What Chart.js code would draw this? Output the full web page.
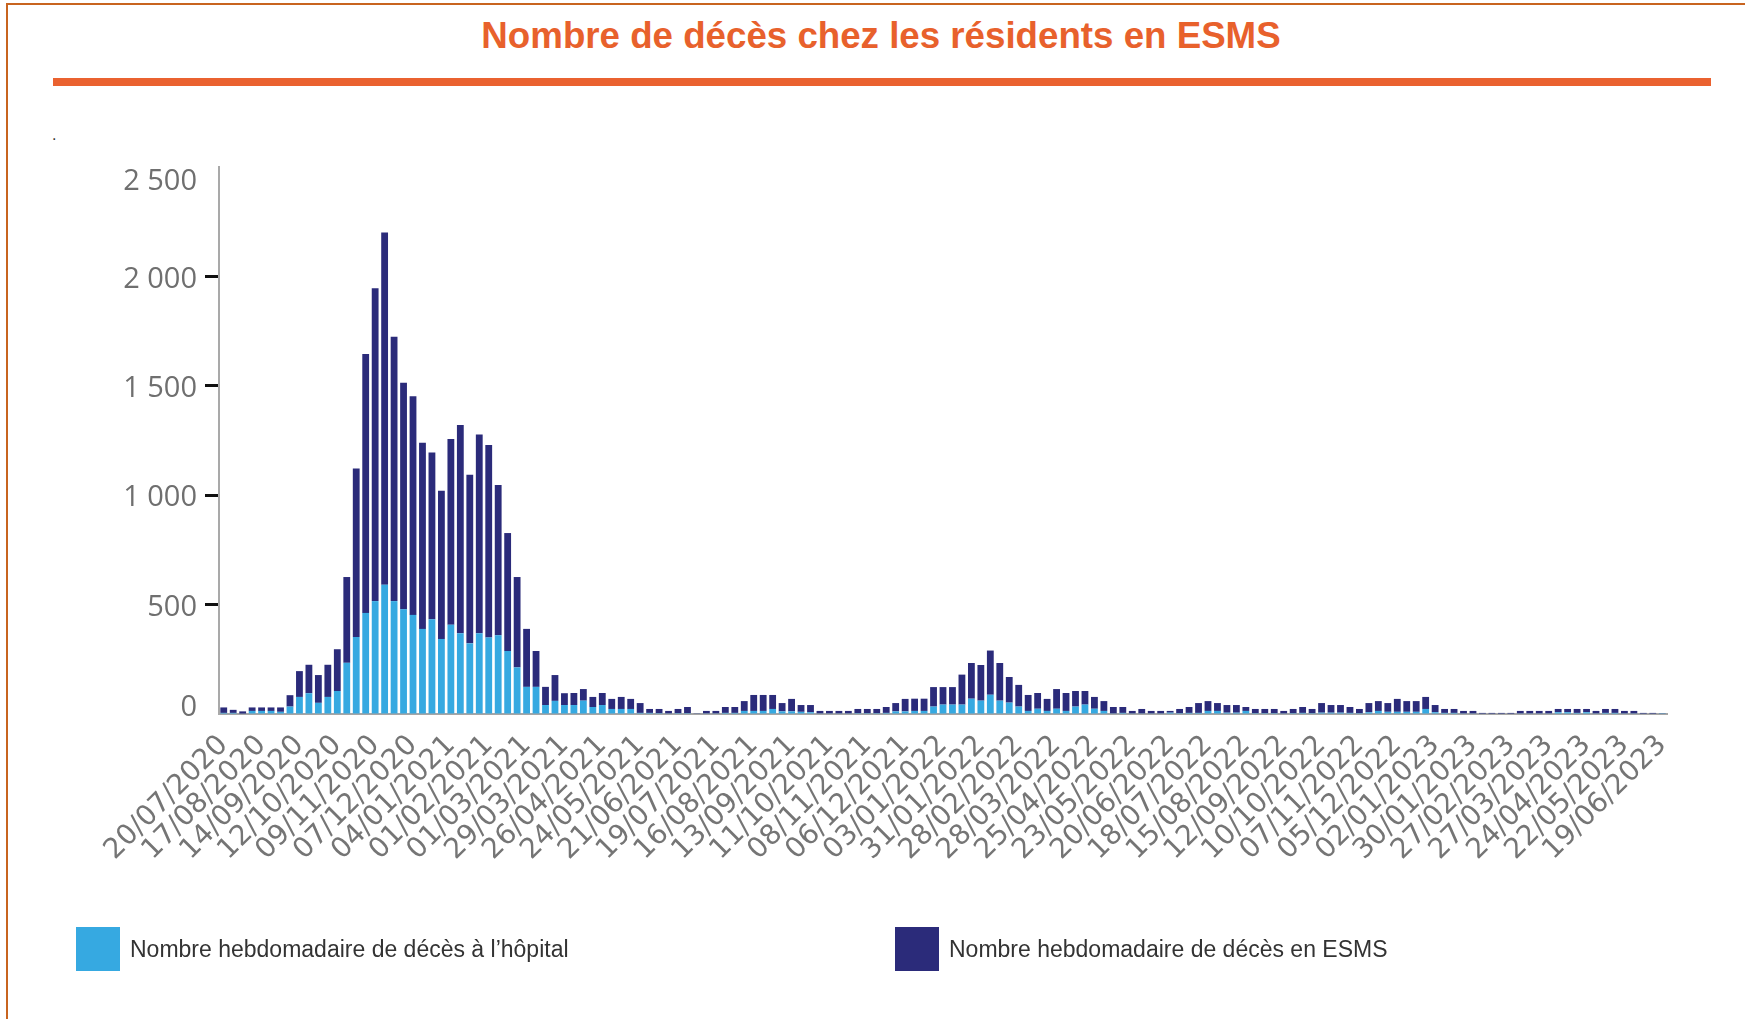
<!DOCTYPE html>
<html lang="fr">
<head>
<meta charset="utf-8">
<title>Nombre de décès chez les résidents en ESMS</title>
<script src="https://cdn.jsdelivr.net/npm/chart.js@4.4.1/dist/chart.umd.min.js"></script>
<style>
  body { margin: 0; background: #fff; }
  #page { position: relative; width: 1745px; height: 1019px; overflow: hidden; background: #fff; }
  #frame { position: absolute; left: 6px; top: 3px; right: 0; bottom: 0; border-left: 2px solid #c8641f; border-top: 2px solid #c8641f; }
  #title { position: absolute; left: 381px; width: 1000px; top: 15px; line-height: 42px; text-align: center;
           font: bold 36.7px "Liberation Sans", Arial, sans-serif; color: #e8612c; }
  #rule { position: absolute; left: 53px; top: 78px; width: 1658px; height: 8px; background: #ea6230; }
  #dot { position: absolute; left: 52px; top: 126px; font: 16px "Liberation Sans", Arial, sans-serif; color: #333; }
  #chart { position: absolute; left: 0; top: 0; }
  .leg { position: absolute; top: 927px; height: 44px; display: flex; align-items: center;
         font: 23px "Liberation Sans", Arial, sans-serif; color: #333; white-space: nowrap; }
  .leg span.box { display: inline-block; width: 44px; height: 44px; margin-right: 10px; }
</style>
</head>
<body>
<div id="page">
  <div id="frame"></div>
  <div id="title">Nombre de décès chez les résidents en ESMS</div>
  <div id="rule"></div>
  <div id="dot">.</div>
  <canvas id="chart" width="1745" height="1019"></canvas>
  <div class="leg" style="left:76px"><span class="box" style="background:#36a9e1"></span>Nombre hebdomadaire de décès à l’hôpital</div>
  <div class="leg" style="left:895px"><span class="box" style="background:#2b2b7a"></span>Nombre hebdomadaire de décès en ESMS</div>
</div>
<script>
// Semaines : du 20/07/2020, une barre par semaine (153 semaines)
const firstWeek = Date.UTC(2020, 6, 20);
const weekCount = 153;
const weeks = [];
for (let i = 0; i < weekCount; i++) {
    const d = new Date(firstWeek + i * 7 * 86400000);
    const dd = String(d.getUTCDate()).padStart(2, '0');
    const mm = String(d.getUTCMonth() + 1).padStart(2, '0');
    weeks.push(dd + '/' + mm + '/' + d.getUTCFullYear());
}

// Libellés affichés sous l'axe (une semaine sur quatre)
const tickLabels = [
    '20/07/2020', '17/08/2020', '14/09/2020', '12/10/2020', '09/11/2020', '07/12/2020',
    '04/01/2021', '01/02/2021', '01/03/2021', '29/03/2021', '26/04/2021', '24/05/2021',
    '21/06/2021', '19/07/2021', '16/08/2021', '13/09/2021', '11/10/2021', '08/11/2021',
    '06/12/2021', '03/01/2022', '31/01/2022', '28/02/2022', '28/03/2022', '25/04/2022',
    '23/05/2022', '20/06/2022', '18/07/2022', '15/08/2022', '12/09/2022', '10/10/2022',
    '07/11/2022', '05/12/2022', '02/01/2023', '30/01/2023', '27/02/2023', '27/03/2023',
    '24/04/2023', '22/05/2023', '19/06/2023'
];

const yTicks = [0, 500, 1000, 1500, 2000, 2500];

// Décès hebdomadaires à l'hôpital (bleu clair)
const hospital = [
    5, 5, 2, 14, 14, 14, 10, 34, 78, 95, 51, 78, 105, 234, 352, 462, 516, 591, 516, 479,
    453, 389, 433, 343, 408, 369, 323, 369, 350, 360, 288, 213, 124, 124, 41, 60, 41, 41, 61, 32,
    41, 23, 23, 23, 5, 5, 4, 3, 4, 4, 2, 3, 3, 5, 5, 14, 14, 14, 23, 12,
    12, 10, 8, 3, 3, 3, 3, 4, 4, 4, 5, 12, 12, 14, 14, 34, 43, 43, 43, 70,
    61, 88, 61, 52, 34, 14, 24, 14, 24, 14, 34, 43, 24, 14, 3, 5, 3, 3, 3, 3,
    6, 4, 5, 5, 14, 14, 6, 6, 14, 4, 4, 4, 3, 4, 5, 4, 6, 6, 6, 5,
    4, 8, 14, 10, 10, 10, 10, 23, 8, 5, 5, 3, 3, 2, 2, 2, 2, 3, 3, 3,
    3, 8, 8, 5, 8, 3, 5, 5, 3, 3, 2, 2, 1
];

// Décès hebdomadaires en ESMS (bleu foncé)
const esms = [
    25, 14, 10, 16, 16, 16, 20, 52, 118, 130, 127, 147, 191, 392, 770, 1183, 1430, 1610, 1208, 1035,
    999, 851, 762, 677, 849, 952, 770, 908, 880, 687, 539, 413, 265, 164, 83, 118, 54, 55, 53, 46,
    55, 46, 55, 46, 45, 18, 19, 11, 19, 28, 1, 11, 11, 27, 27, 45, 73, 73, 64, 38,
    57, 31, 33, 11, 11, 11, 11, 19, 19, 19, 27, 38, 57, 56, 56, 89, 80, 80, 137, 163,
    163, 202, 172, 117, 99, 73, 72, 55, 90, 82, 71, 62, 54, 45, 29, 27, 11, 20, 11, 11,
    8, 19, 27, 45, 45, 36, 35, 35, 18, 19, 19, 19, 11, 19, 27, 19, 44, 35, 35, 27,
    19, 42, 45, 40, 59, 49, 49, 55, 33, 18, 18, 11, 11, 3, 3, 3, 3, 11, 11, 11,
    11, 15, 15, 18, 15, 11, 18, 18, 11, 11, 3, 3, 1
];

function formatThousands(v) {
    if (v < 1000) return String(v);
    return Math.floor(v / 1000) + ' ' + String(v % 1000).padStart(3, '0');
}

// décalage vertical des libellés de l'axe y (lignes vides de 6px)
function shiftLabel(txt, before, after) {
    return Array(before).fill('').concat([txt], Array(after).fill(''));
}

const ctx = document.getElementById('chart').getContext('2d');
new Chart(ctx, {
    type: 'bar',
    data: {
        labels: weeks,
        datasets: [{
            label: 'Nombre hebdomadaire de décès à l’hôpital',
            data: hospital,
            backgroundColor: '#36a9e1',
            categoryPercentage: 1,
            barPercentage: 0.72
        }, {
            label: 'Nombre hebdomadaire de décès en ESMS',
            data: esms,
            backgroundColor: '#2b2b7a',
            categoryPercentage: 1,
            barPercentage: 0.72
        }]
    },
    options: {
        responsive: false,
        animation: false,
        devicePixelRatio: 1,
        layout: { padding: { top: 167, right: 78, bottom: 0, left: 0 } },
        plugins: {
            legend: { display: false },
            tooltip: { enabled: false }
        },
        scales: {
            x: {
                stacked: true,
                grid: { display: false },
                border: { display: true, color: '#a6a6a6', width: 2 },
                afterFit: scale => { scale.height = 305; },
                ticks: {
                    autoSkip: false,
                    minRotation: 45,
                    maxRotation: 45,
                    padding: 7,
                    color: '#757575',
                    font: { family: '"DejaVu Sans"', size: 28 },
                    callback: function (value) {
                        const lab = this.getLabelForValue(value);
                        return tickLabels.includes(lab) ? lab : '';
                    }
                }
            },
            y: {
                stacked: true,
                min: 0,
                max: 2500,
                afterFit: scale => { scale.width = 219; },
                afterBuildTicks: scale => { scale.ticks = yTicks.map(v => ({ value: v })); },
                grid: {
                    display: true,
                    drawOnChartArea: false,
                    drawTicks: true,
                    tickLength: 14,
                    tickWidth: 3,
                    tickColor: c => (c.tick && c.tick.value > 0 && c.tick.value < 2500) ? '#111' : 'rgba(0,0,0,0)'
                },
                border: { display: true, color: '#a9a9a9', width: 2 },
                ticks: {
                    padding: 8,
                    color: '#6f6f6f',
                    font: { family: '"Open Sans"', size: 29, lineHeight: '6px' },
                    callback: value => {
                        const txt = formatThousands(value);
                        if (value === 2500) return shiftLabel(txt, 5, 0);
                        if (value === 0) return shiftLabel(txt, 0, 2);
                        return shiftLabel(txt, 1, 0);
                    }
                }
            }
        }
    }
});
</script>
</body>
</html>
